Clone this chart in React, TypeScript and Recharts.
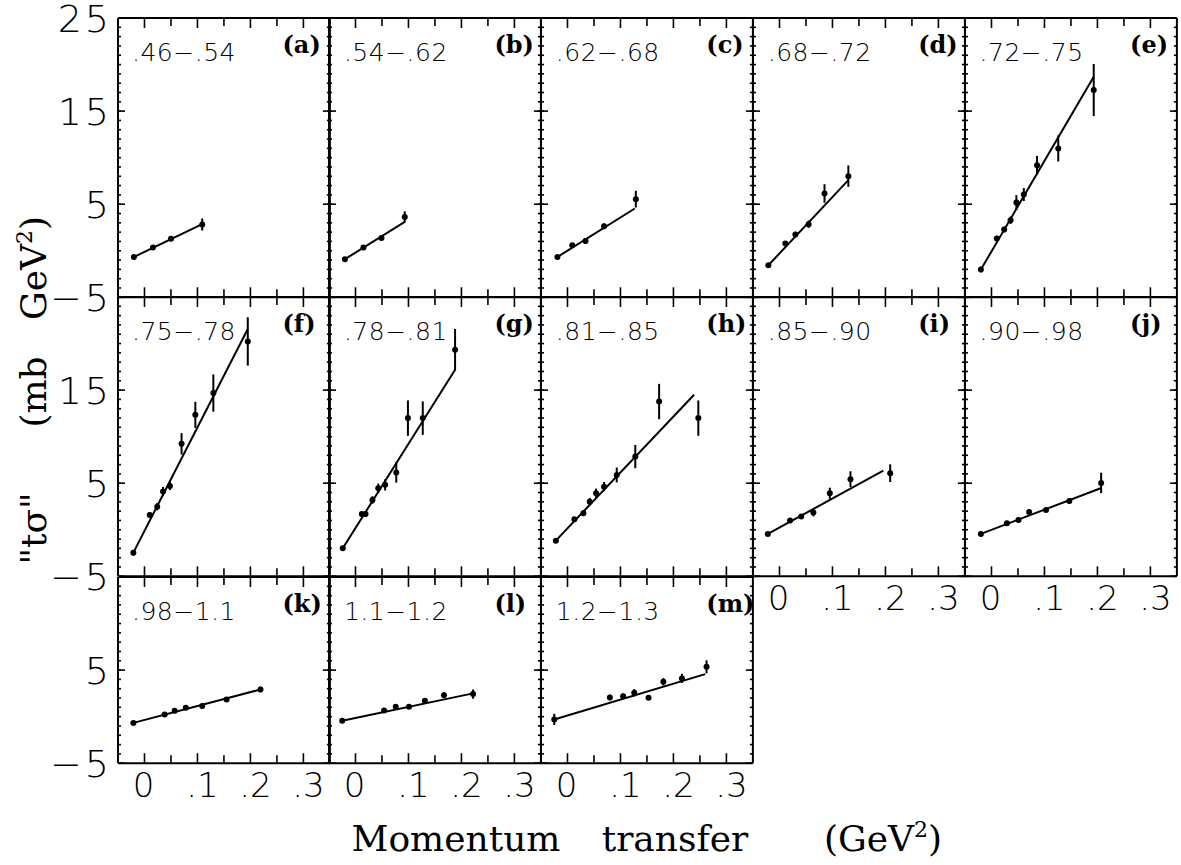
import React from 'react';
import { ComposedChart, XAxis, YAxis, Scatter, ErrorBar, ReferenceLine } from 'recharts';

type Pt = { t: number; v: number; e: number };
type FitPt = { t: number; v: number };

// ---- data (t in GeV^2, "t sigma" in mb GeV^2, e = error) ----
const ptsA: Pt[] = [
  { t: -0.02, v: -0.67, e: 0 }, { t: 0.016, v: 0.34, e: 0 }, { t: 0.05, v: 1.3, e: 0 }, { t: 0.109, v: 2.82, e: 0.65 },
];
const fitA: FitPt[] = [{ t: -0.02, v: -0.67 }, { t: 0.109, v: 2.85 }];

const ptsB: Pt[] = [
  { t: -0.02, v: -0.91, e: 0 }, { t: 0.015, v: 0.34, e: 0 }, { t: 0.049, v: 1.38, e: 0 }, { t: 0.093, v: 3.63, e: 0.6 },
];
const fitB: FitPt[] = [{ t: -0.02, v: -0.91 }, { t: 0.093, v: 3.1 }];

const ptsC: Pt[] = [
  { t: -0.019, v: -0.67, e: 0 }, { t: 0.009, v: 0.59, e: 0 }, { t: 0.034, v: 1.05, e: 0.3 }, { t: 0.069, v: 2.63, e: 0.3 }, { t: 0.129, v: 5.54, e: 0.9 },
];
const fitC: FitPt[] = [{ t: -0.019, v: -0.67 }, { t: 0.127, v: 4.54 }];

const ptsD: Pt[] = [
  { t: -0.021, v: -1.56, e: 0 }, { t: 0.011, v: 0.77, e: 0.2 }, { t: 0.03, v: 1.74, e: 0.3 }, { t: 0.055, v: 2.85, e: 0.4 }, { t: 0.085, v: 6.15, e: 1.0 }, { t: 0.13, v: 8.01, e: 1.15 },
];
const fitD: FitPt[] = [{ t: -0.021, v: -1.56 }, { t: 0.13, v: 7.58 }];

const ptsE: Pt[] = [
  { t: -0.02, v: -2.02, e: 0.3 }, { t: 0.01, v: 1.31, e: 0.3 }, { t: 0.024, v: 2.28, e: 0.3 }, { t: 0.036, v: 3.28, e: 0.4 }, { t: 0.047, v: 5.18, e: 0.8 },
  { t: 0.061, v: 6.04, e: 0.7 }, { t: 0.086, v: 9.19, e: 1.0 }, { t: 0.126, v: 10.99, e: 1.4 }, { t: 0.193, v: 17.26, e: 2.8 },
];
const fitE: FitPt[] = [{ t: -0.02, v: -2.02 }, { t: 0.193, v: 18.69 }];

const ptsF: Pt[] = [
  { t: -0.021, v: -2.46, e: 0.3 }, { t: 0.01, v: 1.59, e: 0.3 }, { t: 0.024, v: 2.48, e: 0.4 }, { t: 0.035, v: 4.1, e: 0.5 }, { t: 0.048, v: 4.71, e: 0.45 },
  { t: 0.07, v: 9.23, e: 1.15 }, { t: 0.096, v: 12.34, e: 1.4 }, { t: 0.13, v: 14.68, e: 2.0 }, { t: 0.195, v: 20.23, e: 2.6 },
];
const fitF: FitPt[] = [{ t: -0.021, v: -2.46 }, { t: 0.195, v: 21.56 }];

const ptsG: Pt[] = [
  { t: -0.024, v: -1.99, e: 0 }, { t: 0.012, v: 1.7, e: 0.3 }, { t: 0.019, v: 1.7, e: 0.3 }, { t: 0.032, v: 3.2, e: 0.4 }, { t: 0.043, v: 4.46, e: 0.5 },
  { t: 0.056, v: 4.82, e: 0.6 }, { t: 0.077, v: 6.16, e: 1.1 }, { t: 0.099, v: 11.99, e: 1.9 }, { t: 0.127, v: 11.99, e: 1.8 }, { t: 0.188, v: 19.33, e: 2.24 },
];
const fitG: FitPt[] = [{ t: -0.024, v: -1.99 }, { t: 0.188, v: 17.18 }];

const ptsH: Pt[] = [
  { t: -0.022, v: -1.17, e: 0 }, { t: 0.013, v: 1.13, e: 0.2 }, { t: 0.03, v: 1.77, e: 0.3 }, { t: 0.042, v: 3.02, e: 0.4 }, { t: 0.054, v: 3.92, e: 0.5 },
  { t: 0.069, v: 4.63, e: 0.5 }, { t: 0.093, v: 5.89, e: 0.8 }, { t: 0.128, v: 7.86, e: 1.25 }, { t: 0.173, v: 13.77, e: 1.9 }, { t: 0.247, v: 11.99, e: 1.9 },
];
const fitH: FitPt[] = [{ t: -0.022, v: -1.17 }, { t: 0.239, v: 14.5 }];

const ptsI: Pt[] = [
  { t: -0.022, v: -0.45, e: 0 }, { t: 0.02, v: 0.98, e: 0.2 }, { t: 0.041, v: 1.41, e: 0.2 }, { t: 0.064, v: 1.84, e: 0.4 }, { t: 0.095, v: 3.92, e: 0.6 },
  { t: 0.134, v: 5.43, e: 0.85 }, { t: 0.209, v: 6.08, e: 0.95 },
];
const fitI: FitPt[] = [{ t: -0.022, v: -0.45 }, { t: 0.196, v: 6.35 }];

const ptsJ: Pt[] = [
  { t: -0.02, v: -0.45, e: 0 }, { t: 0.029, v: 0.7, e: 0 }, { t: 0.051, v: 1.05, e: 0 }, { t: 0.071, v: 1.91, e: 0.3 }, { t: 0.103, v: 2.13, e: 0.2 },
  { t: 0.147, v: 3.1, e: 0.3 }, { t: 0.207, v: 5.03, e: 1.1 },
];
const fitJ: FitPt[] = [{ t: -0.02, v: -0.45 }, { t: 0.206, v: 4.46 }];

const ptsK: Pt[] = [
  { t: -0.021, v: -0.67, e: 0 }, { t: 0.038, v: 0.24, e: 0 }, { t: 0.057, v: 0.62, e: 0 }, { t: 0.078, v: 0.95, e: 0 }, { t: 0.109, v: 1.13, e: 0.2 },
  { t: 0.155, v: 1.85, e: 0.2 }, { t: 0.219, v: 2.92, e: 0.3 },
];
const fitK: FitPt[] = [{ t: -0.021, v: -0.67 }, { t: 0.219, v: 2.92 }];

const ptsL: Pt[] = [
  { t: -0.025, v: -0.45, e: 0 }, { t: 0.054, v: 0.67, e: 0 }, { t: 0.076, v: 1.05, e: 0 }, { t: 0.101, v: 1.05, e: 0 }, { t: 0.131, v: 1.7, e: 0 },
  { t: 0.167, v: 2.31, e: 0.3 }, { t: 0.222, v: 2.42, e: 0.5 },
];
const fitL: FitPt[] = [{ t: -0.025, v: -0.45 }, { t: 0.222, v: 2.5 }];

const ptsM: Pt[] = [
  { t: -0.025, v: -0.3, e: 0.6 }, { t: 0.08, v: 2.06, e: 0.3 }, { t: 0.105, v: 2.2, e: 0.3 }, { t: 0.126, v: 2.56, e: 0.4 }, { t: 0.153, v: 2.02, e: 0 },
  { t: 0.181, v: 3.74, e: 0.4 }, { t: 0.216, v: 4.11, e: 0.5 }, { t: 0.2625, v: 5.35, e: 0.7 },
];
const fitM: FitPt[] = [{ t: -0.025, v: -0.3 }, { t: 0.26, v: 4.57 }];

const panelPts = [ptsA, ptsB, ptsC, ptsD, ptsE, ptsF, ptsG, ptsH, ptsI, ptsJ, ptsK, ptsL, ptsM];
const panelFits = [fitA, fitB, fitC, fitD, fitE, fitF, fitG, fitH, fitI, fitJ, fitK, fitL, fitM];
const rangeLabels = ['.46−.54', '.54−.62', '.62−.68', '.68−.72', '.72−.75', '.75−.78', '.78−.81', '.81−.85', '.85−.90', '.90−.98', '.98−1.1', '1.1−1.2', '1.2−1.3'];
const panelLetters = ['(a)', '(b)', '(c)', '(d)', '(e)', '(f)', '(g)', '(h)', '(i)', '(j)', '(k)', '(l)', '(m)'];

const xMajorTicks = [0, 0.1, 0.2, 0.3];
const xMinorTicks = [0.05, 0.15, 0.25];
const xTickText: Record<string, string> = { '0': '0', '0.1': '.1', '0.2': '.2', '0.3': '.3' };
const yLabelsRow1 = [25, 15, 5, -5];
const yLabelsRow2 = [15, 5, -5];
const yLabelsRow3 = [5, -5];
const yLabelsByRow = [yLabelsRow1, yLabelsRow2, yLabelsRow3];
const yMaxByRow = [25, 25, 15];

// ---- layout ----
const COLS = [117.5, 329.4, 541.3, 753.2, 965.1];
const PW = 211.9;
const ROW_TOP = [18, 297.3, 576.6];
const ROW_H = [279.3, 279.3, 186.2];
const XDOM: [number, number] = [-0.05, 0.35];

const AX = { stroke: '#000', strokeWidth: 2 };
const TL = { stroke: '#000', strokeWidth: 1.6 };
const NUM_FONT = "'DejaVu Sans', 'Noto Sans', sans-serif";
const SERIF = "'DejaVu Serif', 'Liberation Serif', serif";

const renderNoLabel = () => <g />;

const renderYLabel = (props: any) => {
  const { x, y, payload } = props;
  const v = payload.value as number;
  const s = v < 0 ? '−' + Math.abs(v) : String(v);
  return (
    <text x={x - 6} y={y + 13.8} textAnchor="end" fontFamily={NUM_FONT} fontWeight={200} fontSize={38} letterSpacing={3} fill="#000">
      {s}
    </text>
  );
};

const renderXLabel = (props: any) => {
  const { x, y, payload } = props;
  const key = String(Math.round(payload.value * 10) / 10);
  const s = xTickText[key] ?? String(payload.value);
  const dx = payload.value === 0 ? -1 : 5;
  return (
    <text x={x + dx} y={y + 34} textAnchor="middle" fontFamily={NUM_FONT} fontWeight={200} fontSize={34} fill="#000">
      {s}
    </text>
  );
};

const renderDot = (props: any) => <circle cx={props.cx} cy={props.cy} r={3} fill="#000" />;

type PanelProps = {
  pts: Pt[];
  fit: FitPt[];
  left: number;
  top: number;
  h: number;
  yMax: number;
  yLabels: number[] | null;
  showX: boolean;
};

function Panel({ pts, fit, left, top, h, yMax, yLabels, showX }: PanelProps) {
  const padT = top < 20 ? 18 : 22, padB = 22, padL = 4, padR = 4;
  const extraL = yLabels ? 110 : 0;
  const extraB = showX ? 50 : 0;
  const dom: [number, number] = [-5, yMax];
  const yMinor: number[] = [];
  for (let k = -5; k <= yMax; k += 1) yMinor.push(k);
  const yMajor = [-5, 5, 15, 25].filter((k) => k <= yMax);
  return (
    <div style={{ position: 'absolute', left: left - padL - extraL, top: top - padT }}>
      <ComposedChart
        width={PW + padL + padR + extraL}
        height={h + padT + padB + extraB}
        margin={{ top: padT, right: padR, bottom: padB, left: padL }}
      >
        <XAxis xAxisId="x" type="number" dataKey="t" domain={XDOM} ticks={xMajorTicks} orientation="bottom" mirror height={1} tick={renderNoLabel} tickSize={10} interval={0} axisLine={AX} tickLine={TL} allowDataOverflow />
        <XAxis xAxisId="xb2" type="number" dataKey="t" domain={XDOM} ticks={xMinorTicks} orientation="bottom" mirror height={1} tick={renderNoLabel} tickSize={7} interval={0} axisLine={false} tickLine={TL} allowDataOverflow />
        <XAxis xAxisId="xt" type="number" dataKey="t" domain={XDOM} ticks={xMajorTicks} orientation="top" mirror height={1} tick={renderNoLabel} tickSize={10} interval={0} axisLine={AX} tickLine={TL} allowDataOverflow />
        <XAxis xAxisId="xt2" type="number" dataKey="t" domain={XDOM} ticks={xMinorTicks} orientation="top" mirror height={1} tick={renderNoLabel} tickSize={7} interval={0} axisLine={false} tickLine={TL} allowDataOverflow />
        {showX && (
          <XAxis xAxisId="xl" type="number" dataKey="t" domain={XDOM} ticks={xMajorTicks} orientation="bottom" height={extraB} tick={renderXLabel} tickSize={0} tickMargin={0} interval={0} axisLine={false} tickLine={false} allowDataOverflow />
        )}
        <YAxis yAxisId="y" type="number" dataKey="v" domain={dom} ticks={yMinor} orientation="left" mirror width={1} tick={renderNoLabel} tickSize={3} interval={0} axisLine={AX} tickLine={TL} allowDataOverflow />
        <YAxis yAxisId="yM" type="number" dataKey="v" domain={dom} ticks={yMajor} orientation="left" mirror width={1} tick={renderNoLabel} tickSize={6} interval={0} axisLine={false} tickLine={TL} allowDataOverflow />
        <YAxis yAxisId="yr" type="number" dataKey="v" domain={dom} ticks={yMinor} orientation="right" mirror width={1} tick={renderNoLabel} tickSize={3} interval={0} axisLine={AX} tickLine={TL} allowDataOverflow />
        <YAxis yAxisId="yrM" type="number" dataKey="v" domain={dom} ticks={yMajor} orientation="right" mirror width={1} tick={renderNoLabel} tickSize={6} interval={0} axisLine={false} tickLine={TL} allowDataOverflow />
        {yLabels && (
          <YAxis yAxisId="yl" type="number" dataKey="v" domain={dom} ticks={yLabels} orientation="left" width={extraL} tick={renderYLabel} tickSize={0} tickMargin={0} interval={0} axisLine={false} tickLine={false} allowDataOverflow />
        )}
        <ReferenceLine
          xAxisId="x"
          yAxisId="y"
          segment={[{ x: fit[0].t, y: fit[0].v }, { x: fit[1].t, y: fit[1].v }]}
          stroke="#000"
          strokeWidth={2}
          ifOverflow="visible"
        />
        <Scatter xAxisId="x" yAxisId="y" data={pts} dataKey="v" shape={renderDot} isAnimationActive={false}>
          <ErrorBar dataKey="e" direction="y" width={0} stroke="#000" strokeWidth={2} isAnimationActive={false} />
        </Scatter>
      </ComposedChart>
    </div>
  );
}

export default function App() {
  const panels = panelPts.map((pts, i) => {
    const row = i < 5 ? 0 : i < 10 ? 1 : 2;
    const col = row < 2 ? i % 5 : i - 10;
    const showX = row === 2 || (row === 1 && col >= 3);
    return {
      i, row, col, pts, fit: panelFits[i], left: COLS[col], top: ROW_TOP[row], h: ROW_H[row],
      yMax: yMaxByRow[row], yLabels: col === 0 ? yLabelsByRow[row] : null, showX,
    };
  });

  return (
    <div style={{ position: 'absolute', left: 0, top: 0, width: 1181, height: 865, background: '#fff', overflow: 'hidden' }}>
      {panels.map((p) => (
        <Panel key={p.i} pts={p.pts} fit={p.fit} left={p.left} top={p.top} h={p.h} yMax={p.yMax} yLabels={p.yLabels} showX={p.showX} />
      ))}
      <svg width={1181} height={865} style={{ position: 'absolute', left: 0, top: 0, pointerEvents: 'none' }}>
        {panels.map((p) => (
          <g key={'lab' + p.i}>
            <text x={p.left + 14.5} y={p.top + 43} fontFamily={NUM_FONT} fontWeight={200} fontSize={25} letterSpacing={0.5} fill="#000">
              {rangeLabels[p.i]}
            </text>
            <text x={p.left + 165} y={p.top + 35} fontFamily={SERIF} fontWeight="bold" fontSize={24} fill="#000">
              {panelLetters[p.i]}
            </text>
          </g>
        ))}
        <text x={456} y={851} textAnchor="middle" fontFamily={SERIF} fontSize={36} fill="#000">Momentum</text>
        <text x={675} y={851} textAnchor="middle" fontFamily={SERIF} fontSize={36} fill="#000">transfer</text>
        <text x={883} y={851} textAnchor="middle" fontFamily={SERIF} fontSize={36} fill="#000">
          (GeV<tspan dy={-14} fontSize={22}>2</tspan><tspan dy={14}>)</tspan>
        </text>
        <text transform="translate(46,528.5) rotate(-90)" textAnchor="middle" fontFamily={SERIF} fontSize={36} fill="#000">"tσ"</text>
        <text transform="translate(46,392) rotate(-90)" textAnchor="middle" fontFamily={SERIF} fontSize={36} fill="#000">(mb</text>
        <text transform="translate(46,268) rotate(-90)" textAnchor="middle" fontFamily={SERIF} fontSize={36} fill="#000">
          GeV<tspan dy={-14} fontSize={22}>2</tspan><tspan dy={14}>)</tspan>
        </text>
      </svg>
    </div>
  );
}
